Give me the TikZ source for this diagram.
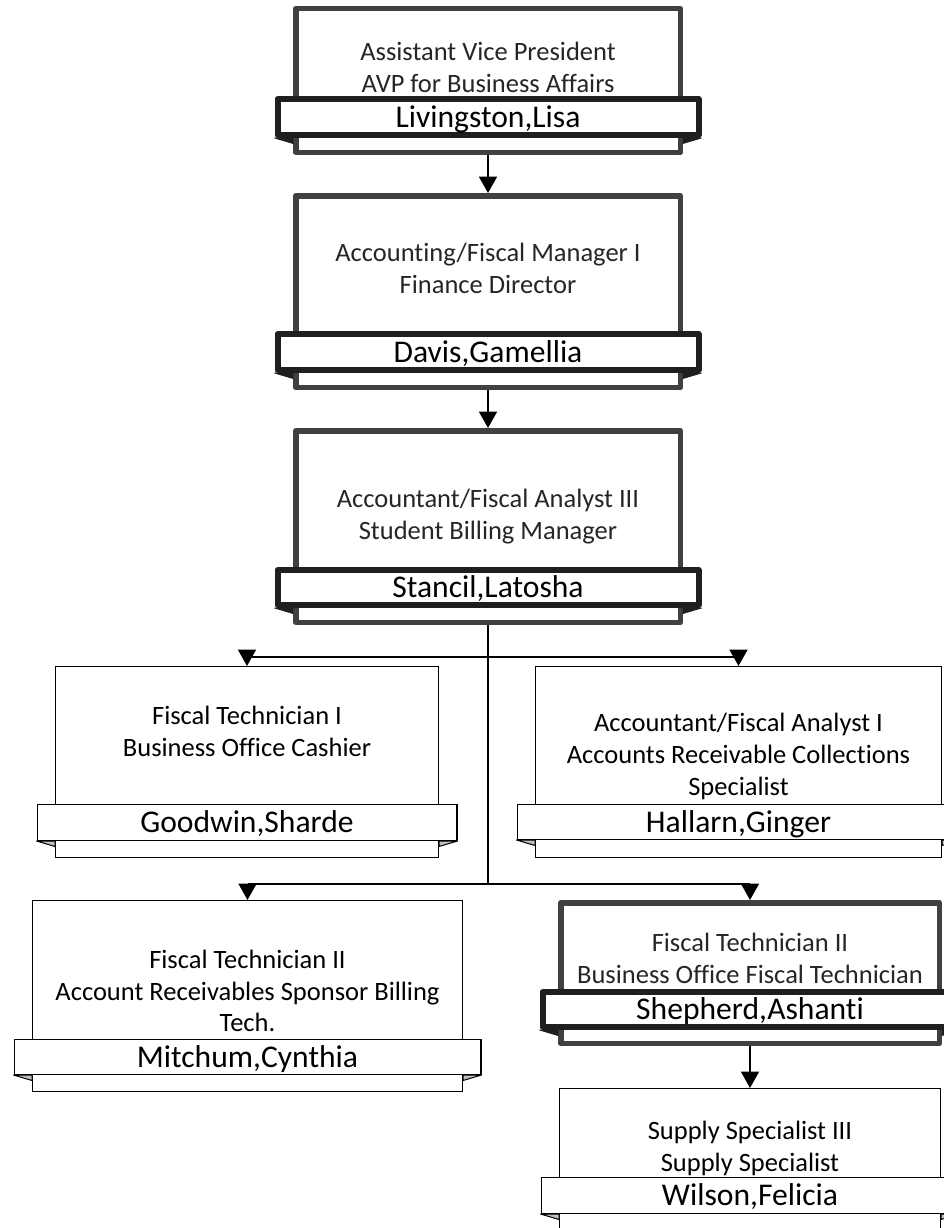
\documentclass[tikz,border=0pt]{standalone}
\usepackage{fontspec}
\setmainfont[Ligatures={NoCommon}]{Carlito}
\usetikzlibrary{arrows.meta,calc}
\definecolor{boxgray}{HTML}{404040}
\definecolor{banblack}{HTML}{1F1F1F}
\definecolor{foldgray}{HTML}{BFBFBF}
\definecolor{titlecol}{HTML}{262626}
\tikzset{
  thickbox/.style={draw=boxgray, line width=5.5pt, fill=white, line join=round, inner sep=0pt, outer sep=auto},
  thinbox/.style={draw=black, line width=1.4pt, fill=white, inner sep=0pt, outer sep=auto},
  thickbanner/.style={draw=banblack, line width=6pt, fill=white, line join=round, inner sep=0pt},
  thinbanner/.style={draw=black, line width=1.4pt, fill=white, inner sep=0pt},
  thickfold/.style={fill=banblack, draw=banblack, line width=0.8pt, line join=round},
  thinfold/.style={fill=foldgray, draw=black, line width=1pt, line join=round},
  titlebase/.style={font=\fontsize{26.5}{31.8}\selectfont, align=center, inner sep=0pt},
  thicktitle/.style={titlebase, text=titlecol},
  thintitle/.style={titlebase, text=black},
  nametext/.style={font=\fontsize{31.6}{38}\selectfont, text=black, text height=26pt, text depth=5.6pt},
  conn/.style={draw=black, line width=2pt},
  arr/.style={conn, -{Triangle[length=16.5pt,width=18pt]}},
}
\def\lwboxthick{5.5}\def\lwbanthick{6}
\def\lwboxthin{1.4}\def\lwbanthin{1.4}
% name, kind, left, right, top, bottom, banner top, banner bottom, person
\newcommand\orgunit[9]{%
  \edef\ouB{\csname lwbox#2\endcsname}%
  \edef\ouN{\csname lwban#2\endcsname}%
  \node[#2box, minimum width={(#4-#3-\ouB)*1pt}, minimum height={(#6-#5-\ouB)*1pt}] (#1) at ({(#3+#4)/2},{(#5+#6)/2}) {};
  \path[#2fold] ({#3-18.5},#8) -- (#3,{#8+5.5}) -- (#3,#8) -- cycle;
  \path[#2fold] ({#4+18.5},#8) -- (#4,{#8+5.5}) -- (#4,#8) -- cycle;
  \node[#2banner, nametext, minimum width={(#4-#3+37-\ouN)*1pt}, minimum height={(#8-#7-\ouN)*1pt}] (#1n) at ({(#3+#4)/2},{(#7+#8)/2}) {#9};
}
\begin{document}
\begin{tikzpicture}[x=1pt,y=-1pt]
\useasboundingbox (0,0) rectangle (944,1228);
\fill[white] (0,0) rectangle (944,1228);
\clip (0,0) rectangle (944,1228);

\orgunit{b1}{thick}{293}{683}{6}{155}{96}{138}{Livingston,Lisa}
\orgunit{b2}{thick}{293}{683}{193}{390}{331}{373}{Davis,Gamellia}
\orgunit{b3}{thick}{293}{683}{428}{625}{567}{608}{Stancil,Latosha}
\orgunit{b4}{thin}{55}{439}{666}{858}{804}{841}{Goodwin,Sharde}
\orgunit{b5}{thin}{535}{942}{666}{858}{804}{840}{Hallarn,Ginger}
\orgunit{b6}{thin}{32}{463}{900}{1092}{1039}{1075}{Mitchum,Cynthia}
\orgunit{b7}{thick}{558}{942}{900}{1046}{989}{1030}{Shepherd,Ashanti}
\orgunit{b8}{thin}{559}{941}{1088}{1280}{1177}{1214}{Wilson,Felicia}

\node[thicktitle] (t1) at (488,70) {\strut Assistant Vice President\\\strut AVP for Business Affairs};
\node[thicktitle] (t2) at (488,271) {\strut Accounting/Fiscal Manager I\\\strut Finance Director};
\node[thicktitle] (t3) at (488,517) {\strut Accountant/Fiscal Analyst III\\\strut Student Billing Manager};
\node[thintitle] (t4) at (247,734.5) {\strut Fiscal Technician I\\\strut Business Office Cashier};
\node[thintitle] (t5) at (738.5,757) {\strut Accountant/Fiscal Analyst I\\\strut Accounts Receivable Collections\\\strut Specialist};
\node[thintitle] (t6) at (247.5,993.7) {\strut Fiscal Technician II\\\strut Account Receivables Sponsor Billing\\\strut Tech.};
\node[thicktitle] (t7) at (750,961) {\strut Fiscal Technician II\\\strut Business Office Fiscal Technician};
\node[thintitle] (t8) at (750,1149) {\strut Supply Specialist III\\\strut Supply Specialist};

\coordinate (j1) at (488,657);
\coordinate (j2) at (488,884);
\draw[arr] (b1.south) -- (b2.north);
\draw[arr] (b2.south) -- (b3.north);
\draw[conn] (b3.south) -- (j2);
\draw[arr] (j1) -| (b4.north);
\draw[arr] (j1) -| (b5.north);
\draw[arr] (j2) -| (b6.north);
\draw[arr] (j2) -| (b7.north);
\draw[arr] (b7.south) -- (b8.north);
\end{tikzpicture}
\end{document}
